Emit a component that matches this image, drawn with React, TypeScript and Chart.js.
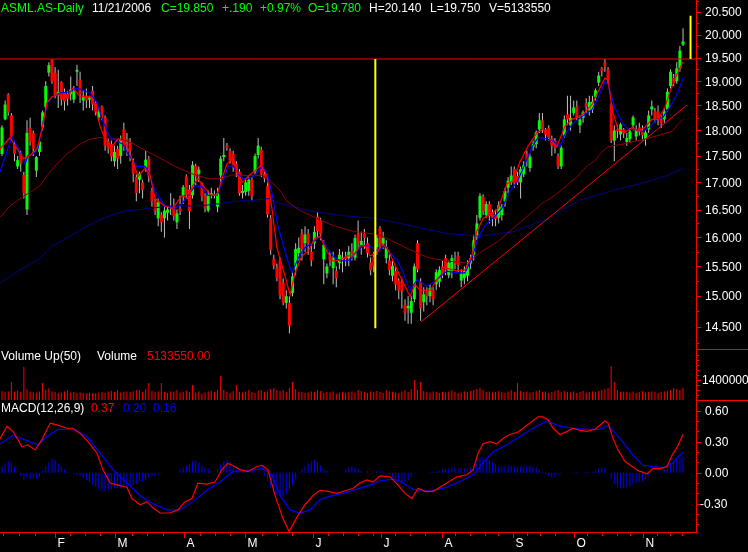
import React, { useEffect, useRef } from 'react';
import { Chart, registerables } from 'chart.js';

Chart.register(...registerables);

// ---------------- daily candles (trading day index 0..218) ----------------
const opens = [
  17.54,18.22,18.73,18.3,17.73,17.3,17.55,17.14,16.5,18.05,
  17.95,17.22,17.58,18.06,18.47,19.18,19.45,19.18,18.73,18.98,
  18.77,18.74,18.73,18.62,19.2,19.03,18.6,18.7,18.62,18.8,
  18.56,18.26,18.48,18.26,17.79,17.73,17.4,17.64,17.5,18.02,
  17.83,17.77,17.39,17.1,17.05,17.0,
  17.28,17.45,16.84,16.66,16.34,16.41,16.34,16.44,16.55,16.57,
  16.27,16.52,16.76,17.11,16.87,16.76,17.31,17.16,16.99,16.76,
  16.48,16.76,16.78,16.55,17.13,17.48,17.7,17.6,17.54,17.35,
  17.2,16.8,16.82,16.84,17.05,17.2,17.52,17.62,17.16,16.93,
  16.34,15.63,15.47,
  15.6,15.22,14.89,14.89,15.05,15.45,15.73,16.07,15.9,16.07,
  15.75,15.9,16.37,16.3,15.62,15.38,15.68,15.47,15.42,15.56,
  15.62,15.66,15.64,15.76,15.65,16.07,15.86,16.07,15.9,15.56,
  15.66,15.83,16.16,15.88,15.64,15.6,15.34,15.42,15.26,15.24,
  14.86,14.8,14.73,14.95,15.9,
  15.24,14.9,15.1,15.0,15.1,15.2,15.24,15.5,15.64,15.35,
  15.42,15.6,15.68,15.26,15.3,15.34,15.55,15.7,16.0,16.35,
  16.73,16.4,16.6,16.45,16.4,16.35,16.4,16.65,16.9,17.0,
  17.25,17.12,17.0,17.15,17.55,17.27,17.67,17.73,18.02,18.2,
  18.02,18.05,17.84,17.8,17.5,17.3,
  17.9,18.32,18.1,18.35,18.48,18.1,18.25,18.55,18.4,18.42,
  18.67,18.97,19.27,19.4,19.25,18.52,17.8,18.02,17.92,18.02,
  17.77,17.83,18.1,17.88,18.06,18.0,17.83,18.02,18.42,18.38,
  18.38,18.22,18.22,18.42,18.9,19.07,19.0,19.27,19.78,
];
const highs = [
  18.1,18.6,18.75,18.35,17.8,17.5,17.6,17.2,18.2,18.25,
  18.0,17.5,17.85,18.4,19.0,19.4,19.47,19.3,19.24,19.0,
  18.85,18.8,19.1,18.9,19.35,19.2,18.8,18.85,18.7,18.9,
  18.6,18.45,18.5,18.3,17.85,17.8,17.7,17.7,17.9,18.15,
  17.95,17.85,17.45,17.15,17.2,17.05,
  17.6,17.5,16.9,16.7,16.7,16.45,16.6,16.55,16.8,16.7,
  16.5,16.75,16.95,17.15,16.95,17.4,17.35,17.3,17.0,16.8,
  16.85,16.9,16.85,16.9,17.5,17.85,17.75,17.65,17.6,17.4,
  17.25,16.95,17.05,17.1,17.1,17.55,17.85,17.68,17.2,17.0,
  16.4,15.7,15.55,
  15.65,15.3,15.1,15.0,15.4,15.9,16.0,16.15,16.2,16.15,
  15.85,16.2,16.45,16.35,15.95,15.55,15.75,15.75,15.5,15.8,
  15.75,15.75,15.85,15.9,16.05,16.3,16.1,16.15,16.0,15.65,
  15.75,16.05,16.2,16.1,15.95,15.7,15.6,15.5,15.3,15.3,
  14.95,15.0,15.0,15.55,15.95,
  15.3,15.15,15.15,15.2,15.15,15.45,15.5,15.6,15.7,15.6,
  15.7,15.75,15.75,15.45,15.5,15.6,15.7,16.05,16.4,16.8,
  16.78,16.65,16.65,16.5,16.5,16.65,16.6,16.9,17.1,17.3,
  17.3,17.2,17.3,17.4,17.6,17.55,17.8,18.0,18.35,18.35,
  18.05,18.1,17.9,17.85,17.55,17.7,
  18.3,18.7,18.7,18.6,18.6,18.3,18.4,18.65,18.7,18.7,
  18.85,19.2,19.3,19.47,19.3,18.55,18.1,18.1,18.15,18.05,
  17.95,18.05,18.3,18.1,18.15,18.1,18.0,18.4,18.6,18.45,
  18.5,18.3,18.45,18.85,19.25,19.15,19.4,19.75,20.14,
];
const lows = [
  17.5,18.2,18.3,17.8,17.4,17.25,17.2,16.7,16.4,17.7,
  17.5,17.1,17.5,18.0,18.4,19.1,18.95,18.65,18.45,18.5,
  18.4,18.5,18.6,18.55,18.9,18.55,18.4,18.45,18.45,18.4,
  18.3,18.2,18.2,17.6,17.55,17.4,17.3,17.25,17.35,17.6,
  17.5,17.4,17.0,16.65,16.8,16.7,
  17.2,17.0,16.55,16.4,16.2,16.1,16.0,16.3,16.4,16.3,
  16.15,16.4,16.6,16.7,16.15,16.7,16.95,17.0,16.65,16.45,
  16.45,16.7,16.7,16.45,17.0,17.4,17.6,17.35,17.2,17.1,
  16.75,16.7,16.75,16.75,16.65,17.15,17.45,17.1,17.0,16.35,
  15.7,15.45,15.25,
  14.95,14.85,14.8,14.4,15.0,15.35,15.6,15.6,15.75,15.7,
  15.5,15.8,16.0,15.95,15.2,15.3,15.5,15.2,15.15,15.45,
  15.4,15.5,15.5,15.6,15.6,15.8,15.7,15.8,15.65,15.35,
  15.4,15.7,15.8,15.8,15.55,15.35,15.25,15.1,14.95,14.8,
  14.6,14.55,14.55,14.9,15.4,
  14.6,14.75,14.85,14.9,14.85,15.1,15.15,15.3,15.35,15.3,
  15.3,15.45,15.4,15.15,15.2,15.25,15.45,15.6,15.95,16.3,
  16.4,16.35,16.25,16.2,16.2,16.25,16.3,16.55,16.8,16.95,
  16.9,16.95,16.7,17.1,17.3,17.2,17.6,17.65,17.95,17.95,
  17.8,17.8,17.5,17.55,17.25,17.25,
  17.85,18.1,18.0,18.3,18.2,17.95,18.15,18.35,18.3,18.35,
  18.6,18.9,19.1,19.2,18.95,17.75,17.4,17.85,17.8,17.85,
  17.7,17.75,18.0,17.8,17.9,17.8,17.7,17.95,18.3,18.15,
  18.1,18.05,18.15,18.38,18.85,18.9,18.95,19.2,19.75,
];
const closes = [
  18.06,18.52,18.36,17.88,17.54,17.42,17.35,16.8,17.95,17.77,
  17.64,17.48,17.78,18.36,18.9,19.34,19.0,18.71,18.78,18.62,
  18.58,18.64,18.83,18.79,19.24,18.73,18.7,18.6,18.66,18.52,
  18.36,18.38,18.26,17.7,17.64,17.49,17.58,17.45,17.83,17.68,
  17.77,17.6,17.16,16.8,17.16,16.86,
  17.43,17.11,16.65,16.47,16.63,16.27,16.48,16.5,16.52,16.38,
  16.43,16.47,16.91,16.76,16.47,17.33,17.11,17.24,16.74,16.52,
  16.78,16.8,16.76,16.8,17.45,17.52,17.66,17.41,17.3,17.2,
  16.8,16.84,17.0,17.05,16.74,17.5,17.7,17.15,17.07,16.41,
  15.78,15.51,15.3,
  15.02,14.89,15.0,14.52,15.33,15.8,15.82,15.8,16.05,15.9,
  15.6,16.1,16.11,16.05,15.87,15.5,15.6,15.64,15.3,15.7,
  15.65,15.63,15.75,15.72,15.99,15.9,15.94,15.99,15.73,15.43,
  15.5,15.99,15.88,15.99,15.83,15.44,15.51,15.19,15.09,15.08,
  14.73,14.84,14.92,15.5,15.45,
  14.8,15.03,15.0,15.13,14.95,15.4,15.44,15.39,15.46,15.56,
  15.64,15.55,15.52,15.37,15.42,15.52,15.64,15.95,16.25,16.75,
  16.47,16.6,16.38,16.35,16.33,16.58,16.55,16.84,17.03,17.13,
  16.98,17.0,17.25,17.33,17.4,17.49,17.73,17.96,18.2,18.02,
  17.92,17.86,17.7,17.66,17.3,17.66,
  18.22,18.22,18.25,18.46,18.26,18.22,18.36,18.48,18.57,18.58,
  18.81,19.12,19.22,19.32,19.02,17.8,18.0,17.98,18.12,17.94,
  17.85,17.98,18.26,18.03,17.98,17.9,17.96,18.3,18.48,18.22,
  18.2,18.14,18.38,18.78,19.2,18.97,19.27,19.65,19.85,
];

// volume, thousands of shares
const volumesK = [
  620,560,600,1260,590,640,560,2310,760,600,
  560,520,600,1190,700,820,610,560,490,530,
  600,680,520,560,490,520,500,460,520,490,
  470,520,560,490,600,640,560,690,520,590,
  600,560,620,700,680,560,770,1190,650,560,
  620,1190,560,490,620,600,700,520,560,640,
  560,1050,520,600,460,520,600,630,560,700,
  1680,700,560,490,620,1050,560,520,600,700,
  560,490,640,700,560,620,770,840,700,630,
  700,560,840,1260,770,600,560,490,520,600,
  560,700,630,490,560,520,600,460,520,560,
  490,560,600,520,700,630,560,490,600,560,
  630,560,490,700,600,560,520,490,600,700,
  560,770,1400,700,1260,630,560,520,600,560,
  490,560,520,600,700,560,490,520,600,560,
  630,700,770,840,700,560,600,520,560,630,
  560,490,600,700,560,1190,630,560,600,520,
  560,630,700,560,600,490,560,630,700,560,
  630,560,520,600,490,560,630,520,560,600,
  560,630,700,770,840,2380,1260,700,560,600,
  560,520,600,490,560,630,520,560,600,560,
  490,560,600,630,700,840,770,700,840,
];

// MACD histogram per day
const macdHist = [
  0.06,0.09,0.11,0.10,0.06,0.02,-0.03,-0.07,-0.05,-0.06,
  -0.05,-0.06,-0.04,0.02,0.06,0.10,0.13,0.12,0.09,0.06,
  0.03,0.01,0.00,-0.01,-0.02,-0.03,-0.05,-0.07,-0.09,-0.12,
  -0.14,-0.16,-0.18,-0.18,-0.17,-0.16,-0.15,-0.15,-0.15,-0.14,
  -0.14,-0.13,-0.12,-0.11,-0.09,-0.08,-0.07,-0.05,-0.04,-0.03,
  -0.02,-0.01,0.00,0.00,0.00,0.00,0.00,0.03,0.05,0.07,
  0.09,0.11,0.12,0.10,0.07,0.05,0.04,0.02,0.00,0.04,
  0.08,0.11,0.12,0.10,0.06,0.03,0.02,0.01,0.01,0.00,
  0.01,0.02,0.01,0.00,-0.03,-0.08,-0.14,-0.19,-0.22,-0.23,
  -0.23,-0.21,-0.17,-0.12,-0.06,-0.01,0.03,0.06,0.09,0.11,
  0.12,0.10,0.07,0.04,0.02,0.00,0.00,0.00,0.00,0.00,
  0.03,0.05,0.06,0.05,0.04,0.02,0.00,0.02,0.00,0.00,
  0.02,0.02,0.01,0.00,-0.02,-0.04,-0.06,-0.08,-0.09,-0.09,
  -0.07,-0.04,-0.01,0.00,0.00,0.00,0.00,0.01,0.01,0.01,
  0.02,0.03,0.04,0.04,0.05,0.05,0.04,0.04,0.04,0.03,
  0.05,0.08,0.12,0.15,0.15,0.14,0.12,0.10,0.08,0.06,
  0.06,0.06,0.07,0.07,0.06,0.05,0.06,0.06,0.07,0.07,
  0.06,0.05,0.03,0.01,-0.01,-0.03,-0.05,-0.04,-0.02,-0.01,
  0.00,0.00,0.00,0.01,0.01,0.00,0.00,0.01,0.01,0.01,
  0.02,0.04,0.05,0.04,0.00,-0.06,-0.11,-0.14,-0.15,-0.15,
  -0.14,-0.13,-0.11,-0.10,-0.09,-0.08,-0.06,-0.03,-0.01,0.00,
  0.00,0.01,0.03,0.06,0.09,0.11,0.13,0.15,0.16,
];

// ---------------- overlay lines (read at sample days) ----------------
const fastMaDays = [-0.6,2.6,4.8,6.7,9,11.2,12.8,14.4,16,17.9,20.8,22.7,25,28.2,29.8,31.4,33,35.2,37.1,39.4,41.6,43.5,45.8,47.4,49,52.2,54.7,57.6,59.5,61.1,62.7,65,67.2,68.8,70.4,72,73.9,75.5,77.1,78.7,81,82.9,84.8,86.4,88,90.6,92.2,93.8,96,98,100.2,101.8,104,106,108.2,110.4,112.4,114.6,116.2,117.8,120,121.6,123.6,125.8,128,130.6,132.2,133.8,137,139.6,142.4,145.6,148.2,150.4,152,154,156.8,158.8,161.7,163.6,165.8,168.4,171.3,173.2,175.4,177.6,180.2,182.5,184.4,186.6,188.9,190.8,193,194,195.3,197.2,199.4,201.7,203.6,205.8,208,210,212.2,213.8,216,218];
const fastMaVals = [17.64,17.86,17.64,17.45,17.51,17.64,18.02,18.56,18.68,18.72,18.66,18.86,18.68,18.68,18.48,18.08,17.83,17.68,17.83,17.77,17.45,17.11,17.26,17.13,16.7,16.56,16.52,16.76,16.7,16.94,17.07,16.89,16.76,16.76,17.07,17.35,17.45,17.13,17.0,17.11,17.22,17.32,17.13,16.52,15.82,15.34,15.02,15.39,15.68,15.76,15.99,16.02,15.76,15.59,15.61,15.68,15.68,15.86,15.85,15.68,15.73,15.9,15.78,15.52,15.27,15.0,15.19,15.1,15.09,15.3,15.47,15.42,15.44,15.69,16.11,16.34,16.43,16.52,16.98,17.03,17.39,17.69,17.96,18.02,17.83,17.68,18.08,18.22,18.26,18.36,18.52,18.78,19.07,19.03,18.42,18.02,17.96,18.06,17.98,18.06,18.22,18.22,18.46,18.78,19.14,19.41];

const midMaDays = [-0.6,3.2,4.8,7.4,8.3,9.9,11.5,13.1,14.7,16.3,18.6,21.8,23.4,25.6,28.2,30.4,32.3,34.6,36.8,38.7,40.3,43.2,45.8,46.7,49,52.2,55.4,57.6,59.5,61.8,64,65.9,68.8,70.7,72.3,73.9,75.5,77.1,78.7,81,83.2,84.8,86.4,88.3,91.2,92.8,94.8,97,99.2,101.8,104,106,108.2,111.4,113.6,115.6,117.8,120.4,122.6,124.2,126.4,128.4,130.6,132.8,136,138.6,142.4,145.6,148.2,150.4,152.4,154.6,157.8,160,162.6,164.9,166.8,169.7,171.6,174.5,176.4,178.6,180.2,182.5,184.4,186.6,188.9,190.8,193,194,196.2,198.5,200.4,202.6,205.2,207.4,209.7,211.6,213.2,214.8,216.4,218];
const midMaVals = [17.2,17.88,17.69,17.35,17.51,17.54,17.64,18.16,18.56,18.68,18.76,18.78,18.86,18.82,18.76,18.56,18.18,17.86,17.79,17.73,17.54,17.3,17.3,17.22,16.84,16.57,16.52,16.61,16.74,16.94,16.92,16.76,16.76,17.03,17.3,17.32,17.16,17.07,17.07,17.13,17.3,17.2,16.8,16.21,15.64,15.39,15.64,15.82,15.9,16.02,15.82,15.68,15.59,15.61,15.76,15.86,15.85,15.76,15.86,15.73,15.61,15.4,15.09,15.27,15.17,15.25,15.42,15.39,15.39,15.64,15.99,16.21,16.38,16.52,16.84,17.01,17.26,17.68,17.86,17.83,17.79,17.68,17.92,18.12,18.22,18.32,18.42,18.66,18.99,18.93,18.46,18.16,18.02,18.02,17.98,18.08,18.22,18.26,18.42,18.58,18.78,19.07];

const ma50Days = [-0.6,2.6,5.8,9.9,12.2,14.4,17.6,20.8,25,28.2,31.4,34.6,37.8,41,44.2,49,55.4,60.8,65.9,69.8,73.6,78.7,83.2,85.1,89,91.2,95.4,100.8,106,112.4,117.8,121,126.4,131.6,137,142.4,148.8,150.8,153.6,158.8,166.5,172.9,177,183.4,187.5,189.8,192.4,194,198.5,205.8,211.3,214.5,216.4,218];
const ma50Vals = [16.36,16.57,16.7,16.85,16.94,17.13,17.35,17.54,17.73,17.83,17.86,17.83,17.83,17.77,17.66,17.51,17.3,17.16,17.07,17.07,17.14,17.13,17.13,17.07,16.85,16.65,16.48,16.34,16.21,16.11,16.07,16.04,15.9,15.76,15.64,15.59,15.56,15.64,15.76,15.93,16.3,16.61,16.76,17.07,17.32,17.41,17.6,17.68,17.73,17.83,17.92,17.98,18.12,18.22];

const ma150Days = [-0.6,5.8,12.2,16.3,20.8,25.9,31.4,36.8,40,44.2,53.1,64,70.4,74.6,81,85.1,89,98,108.8,119.4,131.6,142.4,153,164.2,174.8,185,195.6,206.5,212.9,218];
const ma150Vals = [15.22,15.44,15.64,15.86,15.99,16.16,16.32,16.43,16.48,16.5,16.56,16.57,16.61,16.65,16.67,16.7,16.61,16.48,16.39,16.34,16.2,16.07,16.02,16.11,16.34,16.67,16.85,17.01,17.13,17.26];

const macdDays = [-0.6,1.6,3.5,6.4,8.3,10.6,12.8,15.4,17.9,20.8,22.7,25,27.5,30.4,32.3,34.6,37.1,40,41.6,44.2,46.4,48.3,50.6,53.8,56.3,58.6,60.8,62.7,65.6,68.2,70.4,72.3,73.9,76.2,78.7,81.6,83.2,85.1,87.4,89.9,91.9,94.4,97,99.6,101.8,104.4,107.2,110.4,112.4,114.6,116.8,118.8,121,124.2,126.8,129,131.2,133.2,135.4,138,140.2,142.4,145.6,148.8,150.8,152.4,154,156.2,158.4,160.4,162.6,164.9,166.8,169,171.6,173.2,174.8,176.4,178.6,180.9,182.8,185,187.3,189.8,191.4,193,194,195.6,197.2,199.4,201.7,203.6,206.5,208.4,210.6,212.9,214.5,216,218];
const macdVals = [0.33,0.45,0.40,0.25,0.27,0.22,0.32,0.48,0.46,0.43,0.43,0.38,0.30,0.19,0.03,-0.10,-0.12,-0.14,-0.25,-0.31,-0.28,-0.34,-0.39,-0.39,-0.36,-0.28,-0.25,-0.10,-0.11,-0.09,0.03,0.09,0.07,0.03,0.01,0.06,0.07,0.03,-0.22,-0.44,-0.57,-0.43,-0.31,-0.22,-0.17,-0.18,-0.20,-0.17,-0.15,-0.10,-0.07,-0.09,-0.03,-0.04,-0.12,-0.20,-0.25,-0.15,-0.18,-0.18,-0.14,-0.10,-0.04,-0.02,0.03,0.19,0.28,0.30,0.28,0.33,0.37,0.39,0.43,0.48,0.54,0.54,0.51,0.43,0.37,0.40,0.43,0.41,0.40,0.42,0.46,0.50,0.48,0.33,0.22,0.11,0.06,0.02,-0.01,0.04,0.04,0.06,0.17,0.24,0.37];

const signalDays = [-0.6,3.5,8,11.5,14.4,17.9,22.7,27.2,31.4,35.5,40,44.2,48.3,52.8,57,61.1,65.6,69.8,73.9,78.4,83.5,86.4,89,92.2,95.4,98.6,101.8,106,110.4,114.6,118.8,121,125.2,128.4,131.6,137,142.4,147.6,151.4,154,157.2,161.7,165.8,170,174.5,178.6,182.8,187.3,191.4,194,197.8,202,205.2,208.4,211.6,214.5,218];
const signalVals = [0.28,0.36,0.31,0.27,0.35,0.42,0.42,0.35,0.19,0.03,-0.10,-0.22,-0.30,-0.36,-0.36,-0.28,-0.17,-0.09,0.01,0.02,0.04,-0.02,-0.22,-0.36,-0.39,-0.36,-0.26,-0.22,-0.19,-0.15,-0.11,-0.08,-0.06,-0.10,-0.16,-0.18,-0.14,-0.07,-0.01,0.10,0.20,0.27,0.35,0.43,0.50,0.45,0.43,0.42,0.42,0.46,0.33,0.17,0.07,0.06,0.05,0.09,0.20];

const trendDays = [134.1, 219.3];
const trendVals = [14.58, 18.51];
const resistanceLevel = 19.47;
const markerADay = 119.5;
const markerAVals = [14.48, 19.47];
const markerBDay = 220.4;
const markerBVals = [19.47, 20.42];

// ---------------- axis ticks / labels ----------------
const priceTicks = [14.5, 15, 15.5, 16, 16.5, 17, 17.5, 18, 18.5, 19, 19.5, 20, 20.5];
const priceMinorTicks = [14.25, 14.75, 15.25, 15.75, 16.25, 16.75, 17.25, 17.75, 18.25, 18.75, 19.25, 19.75, 20.25, 20.75];
const volTicksK = [1400];
const volMinorTicksK = [350, 700, 1050, 1750, 2100, 2450, 2800, 3150];
const macdTicks = [-0.3, 0, 0.3, 0.6];
const macdMinorTicks = [-0.5, -0.4, -0.2, -0.1, 0.1, 0.2, 0.4, 0.5, 0.7];
const monthDays = [17.0, 36.2, 58.3, 77.8, 99.6, 121.3, 140.8, 163.6, 183.1, 205.2];
const monthLabels = ['F', 'M', 'A', 'M', 'J', 'J', 'A', 'S', 'O', 'N'];
const weekDays = [0.4, 5.4, 10.6, 21.8, 26.6, 31.4, 41.6, 46.4, 51.5, 63.4, 68.2, 73, 83.2, 88, 92.8, 104.4, 109.2, 114, 118.8, 125.8, 130.6, 135.4, 145, 149.8, 154.6, 158.8, 168.1, 172.2, 177, 187.3, 192, 196.9, 201, 209.7, 213.9, 217.7];

const headerItems: [string, number, string][] = [
  ['ASML.AS-Daily', 1, '#00ff00'],
  ['11/21/2006', 92, '#ffffff'],
  ['C=19.850', 161, '#00ff00'],
  ['+.190', 222, '#00ff00'],
  ['+0.97%', 260, '#00ff00'],
  ['O=19.780', 308, '#00ff00'],
  ['H=20.140', 369, '#ffffff'],
  ['L=19.750', 430, '#ffffff'],
  ['V=5133550', 489, '#ffffff'],
];
const volumeLabels: [string, number, string][] = [
  ['Volume Up(50)', 1, '#ffffff'],
  ['Volume', 97, '#ffffff'],
  ['5133550.00', 147, '#ff0000'],
];
const macdLabels: [string, number, string][] = [
  ['MACD(12,26,9)', 1, '#ffffff'],
  ['0.37', 91, '#ff0000'],
  ['0.20', 123, '#0000ff'],
  ['0.16', 153, '#0000ff'],
];

// ---------------- layout constants ----------------
const W = 748;
const H = 552;
const AXIS_X = 696;
const BOTTOM_Y = 532;
const SPLIT_1 = 349;
const SPLIT_2 = 400;
const X_MIN = -0.64;
const X_MAX = 222.15;
const PRICE_MIN = 11.573;
const PRICE_MAX = 20.776;
const VOL_MIN = -9240;
const VOL_MAX = 28000;
const MACD_MIN = -0.5739;
const MACD_MAX = 4.5745;
const FONT = '12px "Liberation Sans", Arial, Helvetica, sans-serif';

const pts = (days: number[], vals: number[]) => days.map((d, k) => ({ x: d, y: vals[k] }));

const decorPlugin = {
  id: 'decor',
  beforeDraw(chart: any) {
    const { ctx } = chart;
    ctx.save();
    ctx.fillStyle = '#000000';
    ctx.fillRect(0, 0, chart.width, chart.height);
    ctx.restore();
  },
  afterDraw(chart: any) {
    const { ctx, scales } = chart;
    const yP = scales.yP, yV = scales.yV, yM = scales.yM, x = scales.x;
    ctx.save();
    ctx.strokeStyle = '#ff0000';
    ctx.lineWidth = 1;
    const seg = (x1: number, y1: number, x2: number, y2: number) => {
      ctx.beginPath(); ctx.moveTo(x1, y1); ctx.lineTo(x2, y2); ctx.stroke();
    };
    seg(AXIS_X + 0.5, 0, AXIS_X + 0.5, BOTTOM_Y + 1);
    seg(0, BOTTOM_Y + 0.5, AXIS_X + 1, BOTTOM_Y + 0.5);
    seg(AXIS_X, SPLIT_1 + 0.5, W, SPLIT_1 + 0.5);
    seg(AXIS_X, SPLIT_2 + 0.5, W, SPLIT_2 + 0.5);

    ctx.font = FONT;
    ctx.textBaseline = 'middle';
    ctx.textAlign = 'left';
    const tick = (y: number, len: number) => seg(AXIS_X, Math.round(y) + 0.5, AXIS_X + len, Math.round(y) + 0.5);

    priceMinorTicks.forEach(v => tick(yP.getPixelForValue(v), 3));
    priceTicks.forEach(v => {
      const y = yP.getPixelForValue(v);
      tick(y, 5);
      ctx.fillStyle = '#ffffff';
      ctx.fillText(v.toFixed(3), AXIS_X + 9, y + 1);
    });
    volMinorTicksK.forEach(v => tick(yV.getPixelForValue(v), 3));
    volTicksK.forEach(v => {
      const y = yV.getPixelForValue(v);
      tick(y, 5);
      ctx.fillStyle = '#ffffff';
      ctx.fillText(String(v * 1000), AXIS_X + 6, y + 1);
    });
    macdMinorTicks.forEach(v => tick(yM.getPixelForValue(v), 3));
    macdTicks.forEach(v => {
      const y = yM.getPixelForValue(v);
      tick(y, 5);
      ctx.fillStyle = '#ffffff';
      ctx.fillText(v.toFixed(2), v < 0 ? AXIS_X + 4 : AXIS_X + 9, y + 1);
    });

    weekDays.forEach(d => {
      const px = Math.round(x.getPixelForValue(d)) + 0.5;
      seg(px, BOTTOM_Y, px, BOTTOM_Y + 4);
    });
    monthDays.forEach((d, k) => {
      const px = Math.round(x.getPixelForValue(d)) + 0.5;
      seg(px, BOTTOM_Y, px, BOTTOM_Y + 6);
      ctx.fillStyle = '#ffffff';
      ctx.fillText(monthLabels[k], px + 2, BOTTOM_Y + 12);
    });

    const row = (items: [string, number, string][], y: number) => {
      items.forEach(([t, px, c]) => { ctx.fillStyle = c; ctx.fillText(t, px, y); });
    };
    row(headerItems, 9);
    row(volumeLabels, 357);
    row(macdLabels, 409);
    ctx.restore();
  },
};

export default function App() {
  const ref = useRef<HTMLCanvasElement | null>(null);
  useEffect(() => {
    document.body.style.margin = '0';
    document.body.style.background = '#000';
    const canvas = ref.current;
    if (!canvas) return;
    const n = closes.length;
    const idx = Array.from({ length: n }, (_, i) => i);
    const up = idx.map(i => closes[i] >= opens[i]);
    const lineDs = (label: string, data: any[], color: string, width: number, axis: string, order: number) => ({
      type: 'line' as const, label, data, borderColor: color, backgroundColor: color, borderWidth: width,
      pointRadius: 0, tension: 0, fill: false, yAxisID: axis, order, spanGaps: true,
    });
    const chart = new Chart(canvas, {
      type: 'bar',
      data: {
        datasets: [
          { type: 'bar', label: 'wick', data: idx.map(i => ({ x: i, y: [lows[i], highs[i]] })) as any,
            backgroundColor: '#c0c0c0', barThickness: 1, grouped: false, yAxisID: 'yP', order: 30,
            minBarLength: 1, inflateAmount: 0, borderWidth: 0 } as any,
          { type: 'bar', label: 'body', data: idx.map(i => ({ x: i, y: [opens[i], closes[i]] })) as any,
            backgroundColor: up.map(u => (u ? '#00ff00' : '#ff0000')), barThickness: 3, grouped: false,
            yAxisID: 'yP', order: 29, minBarLength: 1, inflateAmount: 0, borderWidth: 0 } as any,
          { type: 'bar', label: 'volume', data: idx.map(i => ({ x: i, y: volumesK[i] })) as any,
            backgroundColor: '#ff0000', barThickness: 1, grouped: false, yAxisID: 'yV', order: 28,
            inflateAmount: 0, borderWidth: 0 } as any,
          { type: 'bar', label: 'hist', data: idx.map(i => ({ x: i, y: macdHist[i] })) as any,
            backgroundColor: '#0000ff', barThickness: 1, grouped: false, yAxisID: 'yM', order: 27,
            inflateAmount: 0, borderWidth: 0 } as any,
          lineDs('ma150', pts(ma150Days, ma150Vals), '#00008b', 1, 'yP', 12),
          lineDs('ma50', pts(ma50Days, ma50Vals), '#900000', 1, 'yP', 11),
          lineDs('trend', pts(trendDays, trendVals), '#ff0000', 1, 'yP', 10),
          lineDs('resist', [{ x: X_MIN, y: resistanceLevel }, { x: X_MAX, y: resistanceLevel }], '#ff0000', 1, 'yP', 9),
          lineDs('mid', pts(midMaDays, midMaVals), '#0000ff', 1.2, 'yP', 8),
          lineDs('fast', pts(fastMaDays, fastMaVals), '#ff0000', 1.2, 'yP', 7),
          lineDs('markA', markerAVals.map(v => ({ x: markerADay, y: v })), '#ffff00', 2, 'yP', 6),
          lineDs('markB', markerBVals.map(v => ({ x: markerBDay, y: v })), '#ffff00', 2, 'yP', 5),
          lineDs('signal', pts(signalDays, signalVals), '#0000ff', 1.2, 'yM', 4),
          lineDs('macd', pts(macdDays, macdVals), '#ff0000', 1.2, 'yM', 3),
        ] as any,
      },
      options: {
        responsive: false,
        animation: false,
        devicePixelRatio: 1,
        events: [],
        layout: { padding: { left: 0, top: 0, right: W - AXIS_X, bottom: H - BOTTOM_Y } },
        plugins: { legend: { display: false }, tooltip: { enabled: false } },
        scales: {
          x: { type: 'linear', min: X_MIN, max: X_MAX, display: false, offset: false, grid: { display: false } },
          yP: { type: 'logarithmic', min: PRICE_MIN, max: PRICE_MAX, display: false, beginAtZero: false },
          yV: { type: 'linear', min: VOL_MIN, max: VOL_MAX, display: false, beginAtZero: false },
          yM: { type: 'linear', min: MACD_MIN, max: MACD_MAX, display: false, beginAtZero: false },
        },
      } as any,
      plugins: [decorPlugin],
    });
    return () => chart.destroy();
  }, []);
  return (
    <div style={{ position: 'fixed', left: 0, top: 0, width: W, height: H, background: '#000' }}>
      <canvas ref={ref} width={W} height={H} style={{ display: 'block' }} />
    </div>
  );
}
